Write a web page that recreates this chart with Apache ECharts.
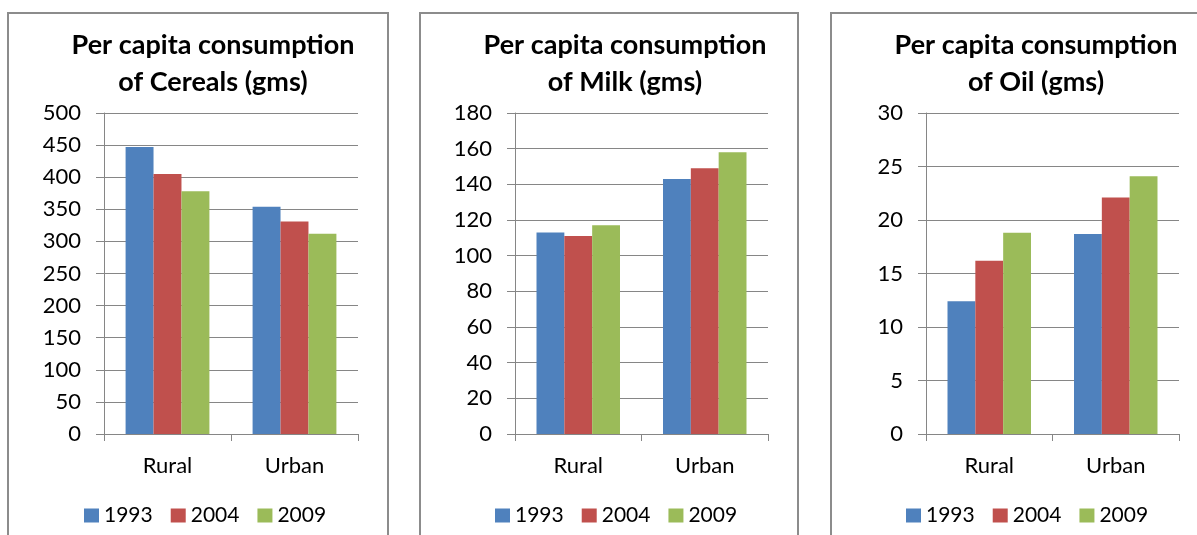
<!DOCTYPE html>
<html><head><meta charset="utf-8">
<script src="https://cdn.jsdelivr.net/npm/echarts@6/dist/echarts.min.js"></script>
<style>html,body{margin:0;padding:0;background:#fff}#c{width:1197px;height:535px}</style>
</head><body><div id="c"></div>
<script>
const categories = ['Rural', 'Urban'];
const years = ['1993', '2004', '2009'];
const colors = ['#4F81BD', '#C0504D', '#9BBB59'];
const titles = ['Per capita consumption\nof Cereals (gms)', 'Per capita consumption\nof Milk (gms)', 'Per capita consumption\nof Oil (gms)'];
// values per year: [Rural, Urban]
const cereals1993 = [447, 354];
const cereals2004 = [405, 331];
const cereals2009 = [378, 312];
const milk1993 = [113, 143];
const milk2004 = [111, 149];
const milk2009 = [117, 158];
const oil1993 = [12.4, 18.7];
const oil2004 = [16.2, 22.1];
const oil2009 = [18.8, 24.1];
const yMax = [500, 180, 30];
const yStep = [50, 20, 5];

const panelData = [
  [cereals1993, cereals2004, cereals2009],
  [milk1993, milk2004, milk2009],
  [oil1993, oil2004, oil2009]
];
const gridLeft = [104, 515, 926];
const gridW = [254, 253, 253];
const titleX = [208, 620, 1031];
const legendX = [84, 495, 906];
const frames = [[8, 380], [420, 378], [831, 380]];
const FONT = 'Lato';

const option = {
  animation: false,
  textStyle: { fontFamily: FONT },
  title: titles.map((t, i) => ({
    text: t, left: titleX[i], top: 22, textAlign: 'center',
    textStyle: { fontFamily: FONT, fontWeight: 'bold', fontSize: 27, lineHeight: 37, color: '#000' }
  })),
  legend: legendX.map((x, i) => ({
    data: years, left: x, top: 505, padding: 0,
    itemWidth: 15, itemHeight: 14, itemGap: 18, icon: 'rect',
    textStyle: { fontFamily: FONT, fontSize: 21, color: '#000' }
  })),
  grid: gridLeft.map((l, i) => ({ left: l, width: gridW[i], top: 113, height: 321 })),
  xAxis: gridLeft.map((l, i) => ({
    type: 'category', gridIndex: i, data: categories,
    axisLine: { lineStyle: { color: '#868686', width: 1 } },
    axisTick: { show: true, length: 7, lineStyle: { color: '#868686' } },
    axisLabel: { margin: 21, fontFamily: FONT, fontSize: 22, color: '#000' }
  })),
  yAxis: gridLeft.map((l, i) => ({
    type: 'value', gridIndex: i, min: 0, max: yMax[i], interval: yStep[i],
    axisLine: { show: true, lineStyle: { color: '#868686', width: 1 } },
    axisTick: { show: true, length: 8, lineStyle: { color: '#868686' } },
    splitLine: { lineStyle: { color: '#868686', width: 1 } },
    axisLabel: { margin: 23, fontFamily: FONT, fontSize: 22, color: '#000' }
  })),
  series: [],
  graphic: frames.map(f => ({
    type: 'rect', shape: { x: f[0], y: 13, width: f[1], height: 540 },
    style: { fill: 'none', stroke: '#8c8c8c', lineWidth: 2 }, silent: true, z: -1
  }))
};
panelData.forEach((pd, i) => {
  pd.forEach((vals, j) => {
    option.series.push({
      type: 'bar', name: years[j], xAxisIndex: i, yAxisIndex: i, data: vals,
      itemStyle: { color: colors[j] }, barGap: '0%', barCategoryGap: '34%'
    });
  });
});
const chart = echarts.init(document.getElementById('c'), null, { renderer: 'canvas' });
chart.setOption(option);
</script></body></html>
